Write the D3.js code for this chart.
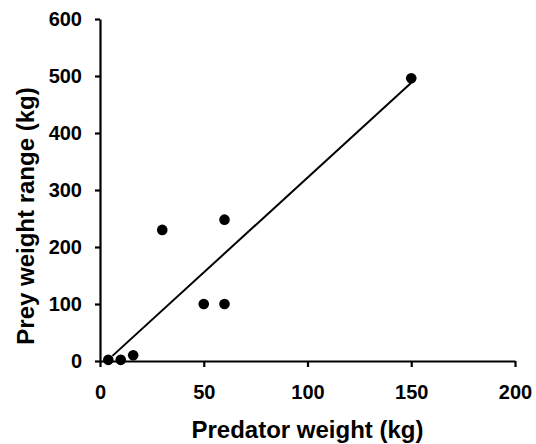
<!DOCTYPE html>
<html>
<head>
<meta charset="utf-8">
<script src="https://cdn.jsdelivr.net/npm/d3@7"></script>
<style>
  body { margin: 0; background: #fff; }
  svg text { font-family: "Liberation Sans", Arial, sans-serif; font-weight: bold; fill: #000; }
</style>
</head>
<body>
<div id="chart"></div>
<script>
// predator vs prey weight
var predatorWeight = [4, 10, 16, 30, 50, 60, 60, 150];
var preyRange = [2, 2, 10, 230, 100, 100, 248, 496];

// fitted line end points
var fitX = [6, 150];
var fitY = [9, 488];

var xTicks = [0, 50, 100, 150, 200];
var yTicks = [0, 100, 200, 300, 400, 500, 600];

var WIDTH = 536, HEIGHT = 444;
var MARGIN = { LEFT: 100, RIGHT: 21, TOP: 19, BOTTOM: 83 };

const svg = d3.select("#chart").append("svg")
  .attr("width", WIDTH)
  .attr("height", HEIGHT);

const xScale = d3.scaleLinear().domain([0, 200]).range([MARGIN.LEFT, WIDTH - MARGIN.RIGHT]);
const yScale = d3.scaleLinear().domain([0, 600]).range([HEIGHT - MARGIN.BOTTOM, MARGIN.TOP]);

const xAxisCall = d3.axisBottom(xScale).tickValues(xTicks).tickSize(6).tickSizeOuter(0).tickPadding(18);
const yAxisCall = d3.axisLeft(yScale).tickValues(yTicks).tickSize(5).tickSizeOuter(0).tickPadding(13);

const xg = svg.append("g")
  .attr("class", "x axis")
  .attr("transform", "translate(0," + yScale(0) + ")")
  .call(xAxisCall);

const yg = svg.append("g")
  .attr("class", "y axis")
  .attr("transform", "translate(" + xScale(0) + ",0)")
  .call(yAxisCall);

[xg, yg].forEach(g => {
  g.selectAll("path, line").attr("stroke", "#000").attr("stroke-width", 2.2);
  g.selectAll("text").attr("font-size", 20).attr("fill", "#000");
});

///regression line
svg.append("path")
  .datum(fitX.map((x, i) => [x, fitY[i]]))
  .attr("fill", "none")
  .attr("stroke", "#000")
  .attr("stroke-width", 2)
  .attr("d", d3.line().x(d => xScale(d[0])).y(d => yScale(d[1])));

svg.append("g")
  .selectAll("circle")
  .data(predatorWeight)
  .enter().append("circle")
  .attr("cx", d => xScale(d))
  .attr("cy", (d, i) => yScale(preyRange[i]))
  .attr("r", 5.3)
  .attr("fill", "#000");

svg.append("text")
  .attr("x", (xScale(0) + xScale(200)) / 2)
  .attr("y", 438)
  .attr("text-anchor", "middle")
  .attr("font-size", 24)
  .text("Predator weight (kg)");

svg.append("text")
  .attr("transform", "translate(34,216) rotate(-90)")
  .attr("text-anchor", "middle")
  .attr("font-size", 24)
  .text("Prey weight range (kg)");
</script>
</body>
</html>
